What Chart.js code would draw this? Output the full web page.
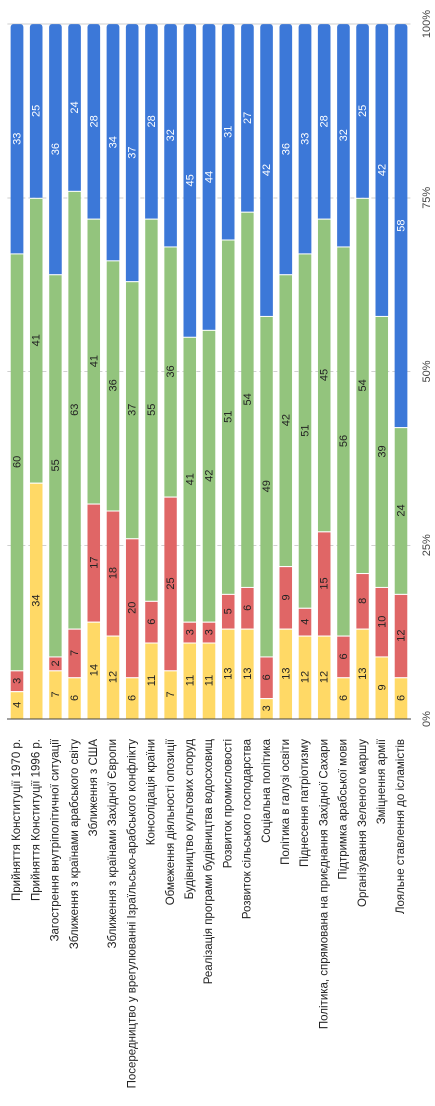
<!DOCTYPE html>
<html>
<head>
<meta charset="utf-8">
<script src="https://cdn.jsdelivr.net/npm/chart.js@4"></script>
<style>
  html, body { margin: 0; padding: 0; background: #fff; }
  #page { position: relative; width: 435px; height: 1106px; overflow: hidden; }
  #wrap {
    position: absolute; left: 0; top: 0; width: 1106px; height: 435px;
    transform-origin: top left;
    transform: translate(0, 1106px) rotate(-90deg);
  }
</style>
</head>
<body>
<div id="page"><div id="wrap"><canvas id="chart" width="1106" height="435"></canvas></div></div>
<script>
const labels = [
    'Прийняття Конституції 1970 р.',
    'Прийняття Конституції 1996 р.',
    'Загострення внутріполітичної ситуації',
    'Зближення з країнами арабського світу',
    'Зближення з США',
    'Зближення з країнами Західної Європи',
    'Посередництво у врегулюванні Ізраїльсько-арабського конфлікту',
    'Консолідація країни',
    'Обмеження діяльності опозиції',
    'Будівництво культових споруд',
    'Реалізація програми будівництва водосховищ',
    'Розвиток промисловості',
    'Розвиток сільського господарства',
    'Соціальна політика',
    'Політика в галузі освіти',
    'Піднесення патріотизму',
    'Політика, спрямована на приєднання Західної Сахари',
    'Підтримка арабської мови',
    'Організування Зеленого маршу',
    'Зміцнення армії',
    'Лояльне ставлення до ісламістів'
];
const yellow = [4, 34, 7, 6, 14, 12, 6, 11, 7, 11, 11, 13, 13, 3, 13, 12, 12, 6, 13, 9, 6];
const red    = [3, 0, 2, 7, 17, 18, 20, 6, 25, 3, 3, 5, 6, 6, 9, 4, 15, 6, 8, 10, 12];
const green  = [60, 41, 55, 63, 41, 36, 37, 55, 36, 41, 42, 51, 54, 49, 42, 51, 45, 56, 54, 39, 24];
const blue   = [33, 25, 36, 24, 28, 34, 37, 28, 32, 45, 44, 31, 27, 42, 36, 33, 28, 32, 25, 42, 58];
const percentTicks = [0, 25, 50, 75, 100];

const FONT = 'Arial, "Liberation Sans", sans-serif';

// value labels in the middle of each segment
const valueLabels = {
    id: 'valueLabels',
    afterDatasetsDraw(chart) {
        const c = chart.ctx;
        c.save();
        c.font = '11px ' + FONT;
        c.textAlign = 'center';
        c.textBaseline = 'middle';
        chart.data.datasets.forEach((ds, i) => {
            const meta = chart.getDatasetMeta(i);
            meta.data.forEach((bar, j) => {
                const v = ds.data[j];
                if (!v) return;
                c.fillStyle = i === 3 ? '#ffffff' : '#222222';
                c.fillText(String(v), (bar.x + bar.base) / 2, bar.y + 0.5);
            });
        });
        c.restore();
    }
};

const segBorder = { top: 0, bottom: 0, left: 0, right: 1 };

new Chart(document.getElementById('chart').getContext('2d'), {
    type: 'bar',
    data: {
        labels: labels,
        datasets: [
            { data: yellow, backgroundColor: '#ffd966', borderColor: '#ffffff', borderWidth: segBorder, borderSkipped: false },
            { data: red, backgroundColor: '#e06666', borderColor: '#ffffff', borderWidth: segBorder, borderSkipped: false },
            { data: green, backgroundColor: '#93c47d', borderColor: '#ffffff', borderWidth: segBorder, borderSkipped: false },
            { data: blue, backgroundColor: '#3c78d8', borderWidth: 0,
              borderRadius: { topRight: 3, bottomRight: 3, topLeft: 0, bottomLeft: 0 }, borderSkipped: false }
        ]
    },
    options: {
        indexAxis: 'y',
        responsive: false,
        animation: false,
        devicePixelRatio: 2,
        layout: { padding: { top: 7.4, right: 21, left: 0, bottom: 0 } },
        datasets: { bar: { categoryPercentage: 1, barPercentage: 0.66 } },
        plugins: { legend: { display: false }, tooltip: { enabled: false } },
        scales: {
            x: {
                stacked: true,
                min: 0, max: 100,
                afterBuildTicks: s => { s.ticks = percentTicks.map(v => ({ value: v })); },
                afterFit: s => { s.height = 24.4; },
                ticks: {
                    padding: 10,
                    color: '#444',
                    font: { family: FONT, size: 11 },
                    callback: v => v + '%'
                },
                grid: {
                    drawTicks: false,
                    color: ctx => (ctx.tick && ctx.tick.value === 0) ? 'rgba(0,0,0,0)' : '#d0d0d0',
                    lineWidth: 1
                },
                border: {
                    display: false,
                    dash: ctx => (ctx.tick && ctx.tick.value === 100) ? [] : [4, 3]
                }
            },
            y: {
                stacked: true,
                afterFit: s => { s.width = 387; },
                ticks: {
                    padding: 0,
                    color: '#222',
                    font: { family: FONT, size: 11.5 },
                    autoSkip: false
                },
                // invisible tick marks keep the labels clear of the axis
                grid: { display: true, drawOnChartArea: false, drawTicks: true, tickLength: 20, tickColor: 'rgba(0,0,0,0)' },
                border: { display: true, color: '#444', width: 1 }
            }
        }
    },
    plugins: [valueLabels]
});
</script>
</body>
</html>
